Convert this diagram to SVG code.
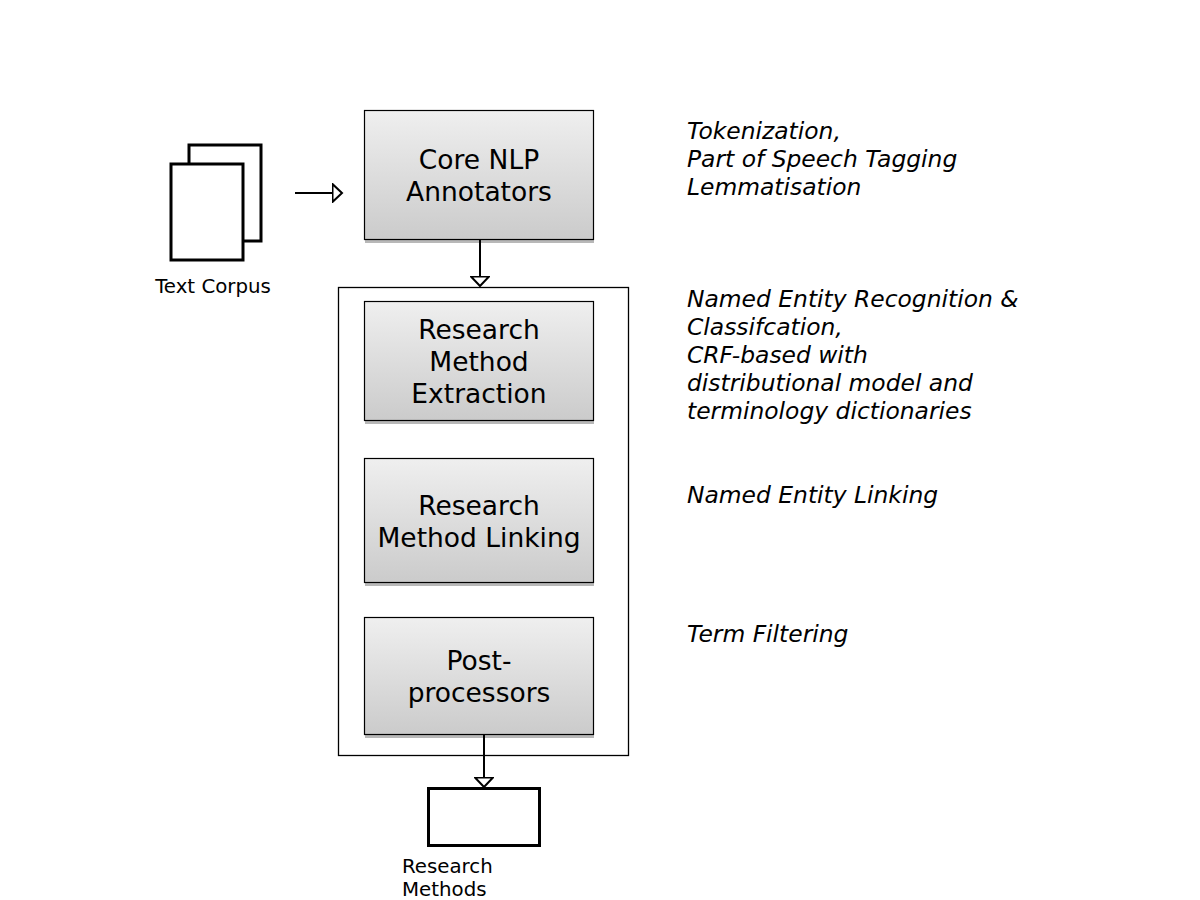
<svg xmlns="http://www.w3.org/2000/svg" width="1200" height="900" viewBox="0 0 1200 900">
<defs>
<linearGradient id="g" x1="0" y1="0" x2="0" y2="1">
<stop offset="0" stop-color="#efefef"/>
<stop offset="1" stop-color="#cbcbcb"/>
</linearGradient>
<marker id="tri" viewBox="-1 -1 12 20" refX="9.5" refY="9" markerWidth="12" markerHeight="20" markerUnits="userSpaceOnUse" orient="auto">
<path d="M0,0 L9.5,9 L0,18 Z" fill="#fff" stroke="#000" stroke-width="2" stroke-linejoin="miter"/>
</marker>
<style>
.box{fill:url(#g);stroke:#000;stroke-width:1.2}
.sh{fill:#b8b8b8}
.bt{font-family:"DejaVu Sans",sans-serif;font-size:26.5px;text-anchor:middle;fill:#000}
.it{font-family:"DejaVu Sans",sans-serif;font-size:23.4px;font-style:italic;fill:#000}
.lb{font-family:"DejaVu Sans",sans-serif;font-size:19.8px;fill:#000}
.ln{stroke:#000;stroke-width:2;fill:none}
</style>
</defs>
<rect width="1200" height="900" fill="#fff"/>
<g id="corpus">
<rect x="189" y="145" width="72" height="96" fill="#fff" stroke="#000" stroke-width="3"/>
<rect x="171" y="164" width="72" height="96" fill="#fff" stroke="#000" stroke-width="3"/>
<text class="lb" x="213" y="293" text-anchor="middle">Text Corpus</text>
</g>
<g id="container">
<rect x="338.5" y="287.5" width="290" height="468" fill="#fff" stroke="#000" stroke-width="1.3"/>
</g>
<g id="core">
<rect class="sh" x="365" y="239" width="229" height="4"/>
<rect class="box" x="364.5" y="110.5" width="229" height="129"/>
<text class="bt" x="479" y="169">Core NLP</text>
<text class="bt" x="479" y="201">Annotators</text>
</g>
<g id="extraction">
<rect class="sh" x="365" y="420" width="229" height="4"/>
<rect class="box" x="364.5" y="301.5" width="229" height="119"/>
<text class="bt" x="479" y="339">Research</text>
<text class="bt" x="479" y="371">Method</text>
<text class="bt" x="479" y="403">Extraction</text>
</g>
<g id="linking">
<rect class="sh" x="365" y="582" width="229" height="4"/>
<rect class="box" x="364.5" y="458.5" width="229" height="124"/>
<text class="bt" x="479" y="515">Research</text>
<text class="bt" x="479" y="547">Method Linking</text>
</g>
<g id="post">
<rect class="sh" x="365" y="734" width="229" height="4"/>
<rect class="box" x="364.5" y="617.5" width="229" height="117"/>
<text class="bt" x="479" y="670">Post-</text>
<text class="bt" x="479" y="702">processors</text>
</g>
<g id="output">
<rect x="428.5" y="788.5" width="111" height="57" fill="#fff" stroke="#000" stroke-width="3"/>
<text class="lb" x="402" y="873">Research</text>
<text class="lb" x="402" y="896">Methods</text>
</g>
<g id="notes">
<text class="it" x="687" y="139">Tokenization,</text>
<text class="it" x="687" y="167">Part of Speech Tagging</text>
<text class="it" x="687" y="195">Lemmatisation</text>
<text class="it" x="687" y="307">Named Entity Recognition &amp;</text>
<text class="it" x="687" y="335">Classifcation,</text>
<text class="it" x="687" y="363">CRF-based with</text>
<text class="it" x="687" y="391">distributional model and</text>
<text class="it" x="687" y="419">terminology dictionaries</text>
<text class="it" x="687" y="503">Named Entity Linking</text>
<text class="it" x="687" y="642">Term Filtering</text>
</g>
<g id="connectors">
<line class="ln" x1="295" y1="193" x2="342" y2="193" marker-end="url(#tri)"/>
<line class="ln" x1="480" y1="240" x2="480" y2="286" marker-end="url(#tri)"/>
<line class="ln" x1="484" y1="735" x2="484" y2="787" marker-end="url(#tri)"/>
</g>
</svg>
